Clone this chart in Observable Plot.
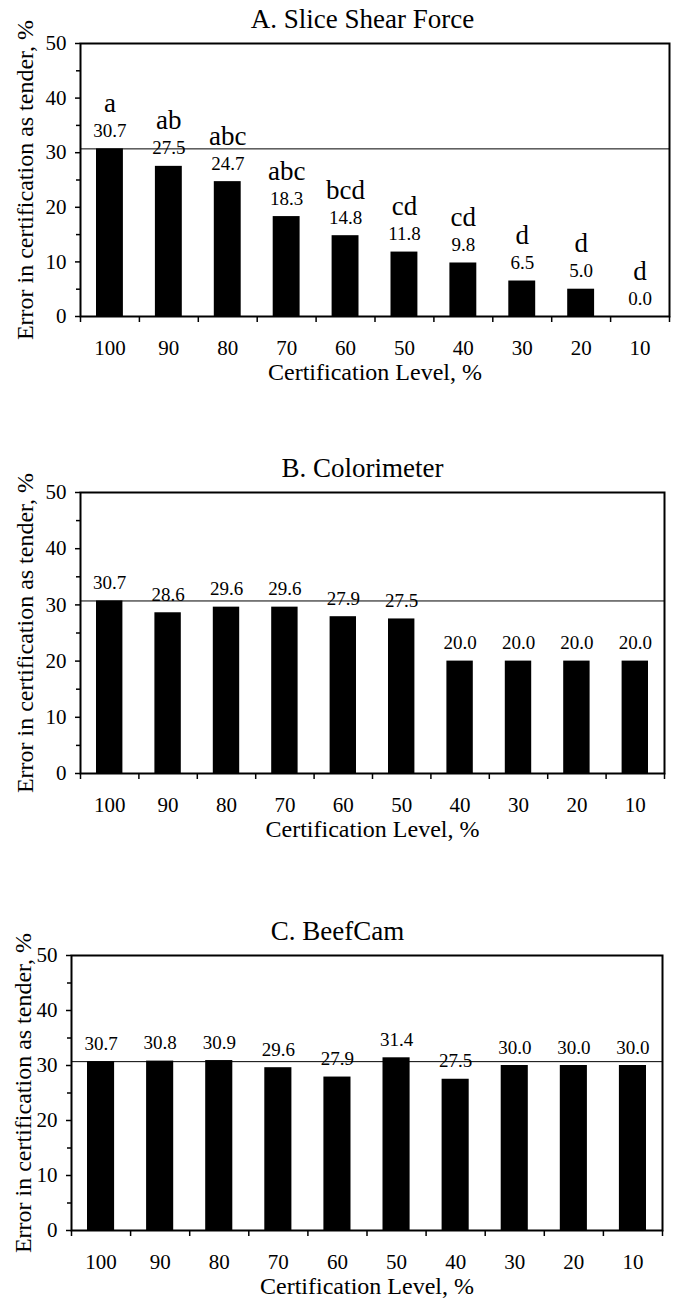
<!DOCTYPE html>
<html><head><meta charset="utf-8">
<script src="https://cdn.jsdelivr.net/npm/d3@7"></script>
<script src="https://cdn.jsdelivr.net/npm/@observablehq/plot@0.6"></script>
<style>
body{margin:0;background:#fff;}
#root{position:relative;width:677px;height:1300px;overflow:hidden;}
.panel{position:absolute;left:0;}
</style></head><body><div id="root"></div>
<script>
// ---- data ----
const levels = [100, 90, 80, 70, 60, 50, 40, 30, 20, 10];
const sliceShearForce = [30.7, 27.5, 24.7, 18.3, 14.8, 11.8, 9.8, 6.5, 5.0, 0.0];
const sliceShearLetters = ["a", "ab", "abc", "abc", "bcd", "cd", "cd", "d", "d", "d"];
const colorimeter = [30.7, 28.6, 29.6, 29.6, 27.9, 27.5, 20.0, 20.0, 20.0, 20.0];
const beefCam = [30.7, 30.8, 30.9, 29.6, 27.9, 31.4, 27.5, 30.0, 30.0, 30.0];
const referenceError = [30.7];
const yTicks = [0, 10, 20, 30, 40, 50];
const yMinorTicks = [5, 15, 25, 35, 45];
const panelTitles = ["A. Slice Shear Force", "B. Colorimeter", "C. BeefCam"];
const xTitle = "Certification Level, %";
const yTitle = "Error in certification as tender, %";

// ---- layout ----
const FONT = "Liberation Serif, Times New Roman, serif";
const layouts = [
  {frameTop: 43, frameBottom: 316, left: 80, right: 669, titleX: 362, yLabelX: 25},
  {frameTop: 492, frameBottom: 773, left: 80, right: 664, titleX: 362, yLabelX: 25},
  {frameTop: 955, frameBottom: 1230, left: 71, right: 662, titleX: 337, yLabelX: 23}
];
const series = [sliceShearForce, colorimeter, beefCam];
const letters = [sliceShearLetters, null, null];

const root = document.getElementById("root");
const MT = 50, MB = 75, W = 677;

series.forEach((vals, p) => {
  const L = layouts[p];
  const rows = vals.map((v, i) => ({i, level: levels[i], v, letter: letters[p] ? letters[p][i] : null}));
  const marks = [
    Plot.rectY(rows, {x1: d => d.i, x2: d => d.i + 1, y1: 0, y2: "v", insetLeft: 16, insetRight: 16, fill: "black"}),
    Plot.ruleY(referenceError, {stroke: "black", strokeWidth: 1}),
    Plot.frame({stroke: "black", strokeWidth: 2}),
    Plot.axisY({ticks: yTicks, label: null, tickSize: 5, tickPadding: 9, strokeWidth: 1.5, fontSize: 21, fontFamily: FONT}),
    Plot.axisY({ticks: yMinorTicks, label: null, tickSize: 4, strokeWidth: 1.5, tickFormat: () => ""}),
    Plot.axisX({ticks: d3.range(11), label: null, tickSize: 6, strokeWidth: 1.5, tickFormat: () => ""}),
    Plot.axisX({ticks: d3.range(10).map(i => i + 0.5), label: null, tickSize: 0, tickPadding: 24, fontSize: 21, fontFamily: FONT,
      tickFormat: d => String(levels[Math.floor(d)])}),
    Plot.text(rows, {x: d => d.i + 0.5, y: "v", text: d => d.v.toFixed(1), dy: -12, lineAnchor: "bottom", fontSize: 19, fontFamily: FONT}),
    Plot.text([panelTitles[p]], {frameAnchor: "top-left", dx: L.titleX - L.left, dy: -24, text: d => d, lineAnchor: "middle", textAnchor: "middle", fontSize: 27, fontFamily: FONT}),
    Plot.text([xTitle], {frameAnchor: "bottom", dy: 56, text: d => d, lineAnchor: "middle", textAnchor: "middle", fontSize: 24, fontFamily: FONT}),
    Plot.text([yTitle], {frameAnchor: "left", dx: L.yLabelX - L.left, rotate: -90, text: d => d, lineAnchor: "middle", textAnchor: "middle", fontSize: 24, fontFamily: FONT})
  ];
  if (letters[p]) {
    marks.push(Plot.text(rows, {x: d => d.i + 0.5, y: "v", text: "letter", dy: -37, lineAnchor: "bottom", fontSize: 27, fontFamily: FONT}));
  }
  const chart = Plot.plot({
    width: W,
    height: MT + (L.frameBottom - L.frameTop) + MB,
    marginTop: MT, marginBottom: MB, marginLeft: L.left, marginRight: W - L.right,
    x: {domain: [0, 10]},
    y: {domain: [0, 50]},
    style: {fontFamily: FONT, fontSize: "20px", color: "black", background: "white", overflow: "visible"},
    marks
  });
  const div = document.createElement("div");
  div.className = "panel";
  div.style.top = (L.frameTop - MT) + "px";
  div.appendChild(chart);
  root.appendChild(div);
});
</script></body></html>
